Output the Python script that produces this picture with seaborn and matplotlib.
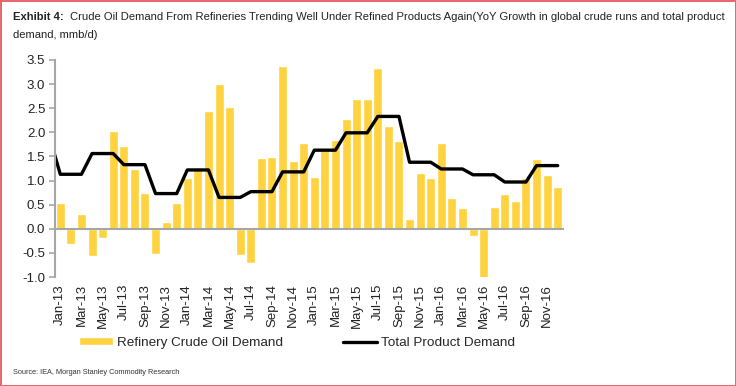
import numpy as np
import pandas as pd
import matplotlib
matplotlib.use("Agg")
import matplotlib.pyplot as plt
import seaborn as sns
from matplotlib.ticker import FormatStrFormatter

# monthly refinery crude demand growth, Jan-13 .. Dec-16 (mmb/d)
crude = [0.54, -0.31, 0.31, -0.57, -0.19, 2.02, 1.71, 1.25, 0.75, -0.52, 0.14, 0.54,
         1.06, 1.26, 2.44, 3.01, 2.53, -0.55, -0.71, 1.47, 1.49, 3.38, 1.40, 1.78,
         1.08, 1.64, 1.85, 2.28, 2.70, 2.69, 3.34, 2.13, 1.82, 0.20, 1.15, 1.06,
         1.78, 0.64, 0.44, -0.16, -1.02, 0.45, 0.72, 0.58, 1.05, 1.44, 1.11, 0.87]

# total product demand, quarterly (Q4-12 .. Q4-16), shown monthly
product_q = [1.89, 1.13, 1.56, 1.33, 0.73, 1.22, 0.65, 0.77, 1.18,
             1.63, 1.99, 2.33, 1.38, 1.24, 1.12, 0.97, 1.31]

months = pd.date_range("2013-01-01", periods=48, freq="MS")
tick_labels = [m.strftime("%b-%y") for m in months[::2]]

YELLOW = "#FFD23F"
GREY = "#A6A6A6"

df = pd.DataFrame({"pos": np.arange(48), "crude": crude})
# Dec-12 point (pos -1) then each quarter value repeated for its 3 months
prod = pd.DataFrame({"pos": np.arange(-1, 48),
                     "product": [product_q[0]] + list(np.repeat(product_q[1:], 3))})

sns.set_style("white")
plt.rcParams["font.family"] = ["Liberation Sans", "DejaVu Sans"]

fig = plt.figure(figsize=(7.36, 3.86), dpi=100)
ax = fig.add_axes([55 / 736, 1 - 277 / 386, 508 / 736, 217 / 386])

sns.barplot(data=df, x="pos", y="crude", color=YELLOW, saturation=1, width=0.85,
            label="Refinery Crude Oil Demand", ax=ax)
sns.lineplot(data=prod, x="pos", y="product", color="black", linewidth=2.4,
             label="Total Product Demand", ax=ax)

ax.set_xlim(-0.5, 47.5)
ax.set_ylim(-1.0, 3.5)
ax.set_xlabel("")
ax.set_ylabel("")

# x axis line at zero with ticks between every second month
for s in ["top", "right"]:
    ax.spines[s].set_visible(False)
ax.spines["bottom"].set_position(("data", 0))
ax.spines["bottom"].set_color(GREY)
ax.spines["left"].set_color(GREY)
ax.spines["bottom"].set_linewidth(1.5)
ax.spines["left"].set_linewidth(1.5)
ax.set_xticks(np.arange(-0.5, 48, 2))
ax.tick_params(axis="x", labelbottom=False, length=4, width=1.2, color=GREY, direction="out")

ax.set_yticks(np.arange(-1.0, 3.51, 0.5))
ax.yaxis.set_major_formatter(FormatStrFormatter("%.1f"))
ax.tick_params(axis="y", length=4, width=1.2, color=GREY, labelsize=9.5,
               labelcolor="#222222", pad=3, left=True)

# month labels under the plot
sec = ax.secondary_xaxis("bottom")
sec.set_xticks(np.arange(0, 48, 2), labels=tick_labels, rotation=90)
sec.tick_params(length=0, labelsize=9.5, labelcolor="#222222", pad=5)
sec.spines["bottom"].set_visible(False)

handles, labels = ax.get_legend_handles_labels()
ax.get_legend().remove()
order = [labels.index("Refinery Crude Oil Demand"), labels.index("Total Product Demand")]
fig.legend([handles[i] for i in order], [labels[i] for i in order], loc="center",
           bbox_to_anchor=(297 / 736, 1 - 343 / 386),
           ncol=2, frameon=False, fontsize=9.7, handlelength=2.5, handleheight=0.5,
           handletextpad=0.3, columnspacing=4.5)

fig.text(13 / 736, 1 - 17 / 386, "Exhibit 4:", fontsize=8.1, fontweight="bold",
         va="center", color="#222222")
fig.text(70 / 736, 1 - 17 / 386,
         "Crude Oil Demand From Refineries Trending Well Under Refined Products Again"
         "(YoY Growth in global crude runs and total product",
         fontsize=8.1, va="center", color="#222222")
fig.text(13 / 736, 1 - 35 / 386, "demand, mmb/d)", fontsize=8.1,
         va="center", color="#222222")
fig.text(13 / 736, 1 - 372 / 386, "Source: IEA, Morgan Stanley Commodity Research",
         fontsize=5.3, va="center", color="#333333")

fig.patch.set_edgecolor("#E8696B")
fig.patch.set_linewidth(2)

fig.savefig("out.png", dpi=100, edgecolor=fig.get_edgecolor())
